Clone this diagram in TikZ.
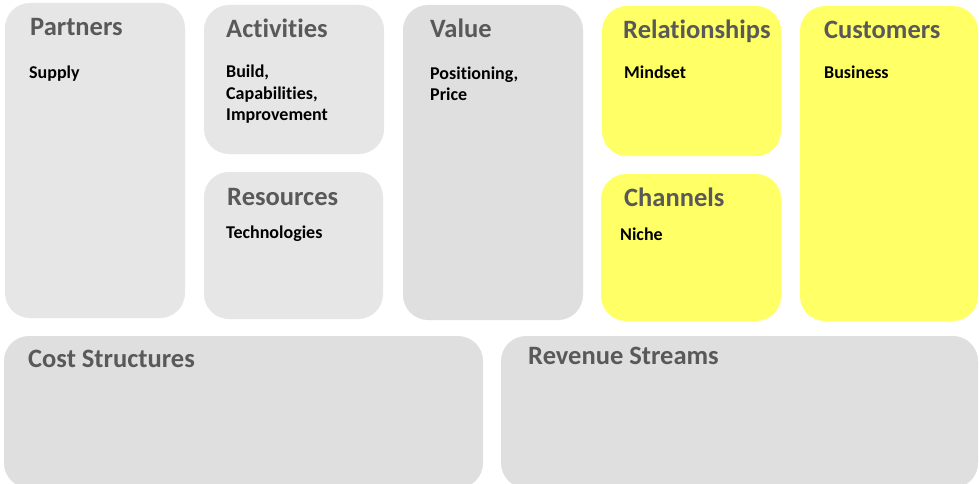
\documentclass[tikz,border=0pt]{standalone}
\usepackage{fontspec}
\setmainfont{Carlito}[Ligatures=NoCommon]
\definecolor{panelight}{HTML}{E6E6E6}
\definecolor{panegray}{HTML}{DFDFDF}
\definecolor{paneyellow}{HTML}{FFFF66}
\definecolor{headgray}{HTML}{595959}

\begin{document}
\begin{tikzpicture}[x=1pt,y=-1pt,
  pane/.style={fill=#1,rounded corners=25pt,inner sep=0pt,outer sep=0pt,anchor=north west},
  head/.style={anchor=base west,inner sep=0pt,text=headgray,font=\fontsize{26.5}{30}\selectfont\bfseries},
  item/.style={anchor=base west,inner sep=0pt,align=left,font=\fontsize{18}{21.5}\selectfont\bfseries}]
\useasboundingbox[fill=white] (0,0) rectangle (979,484);
% top row of panes
\node[pane=panelight,minimum width=180pt,minimum height=315pt] (partners) at (5,3) {};
\node[pane=panelight,minimum width=180pt,minimum height=149pt] (activities) at (204,5) {};
\node[pane=panelight,minimum width=179pt,minimum height=147pt] (resources) at (204,172) {};
\node[pane=panegray,minimum width=180pt,minimum height=315pt] (value) at (403,5) {};
\node[pane=paneyellow,minimum width=179pt,minimum height=150pt] (relations) at (602,6) {};
\node[pane=paneyellow,minimum width=180pt,minimum height=147pt] (channels) at (601,174) {};
\node[pane=paneyellow,minimum width=178pt,minimum height=315pt] (customers) at (800,6) {};
% bottom row
\node[pane=panegray,minimum width=479pt,minimum height=152pt] (costs) at (4,336) {};
\node[pane=panegray,minimum width=477pt,minimum height=152pt] (revenue) at (501,336) {};

% headings
\node[head] (partnershd) at (30,36) {Partners};
\node[head] (activitieshd) at (226,38) {Activities};
\node[head] (resourceshd) at (227,205) {Resources};
\node[head] (valuehd) at (430,38) {Value};
\node[head] (relationshd) at (623,39) {Relationships};
\node[head] (channelshd) at (624,206) {Channels};
\node[head] (customershd) at (824,39) {Customers};
\node[head] (costshd) at (28,367) {Cost Structures};
\node[head] (revenuehd) at (528,364) {Revenue Streams};

% entries (multi-line ones sit on their last baseline)
\node[item] (supply) at (29,79) {Supply};
\node[item] (build) at (226,121) {Build,\\Capabilities,\\Improvement};
\node[item] (techs) at (226,238) {Technologies};
\node[item] (position) at (430,101) {Positioning,\\Price};
\node[item] (mindset) at (624,79) {Mindset};
\node[item] (niche) at (620,240) {Niche};
\node[item] (business) at (824,79) {Business};
\end{tikzpicture}
\end{document}
